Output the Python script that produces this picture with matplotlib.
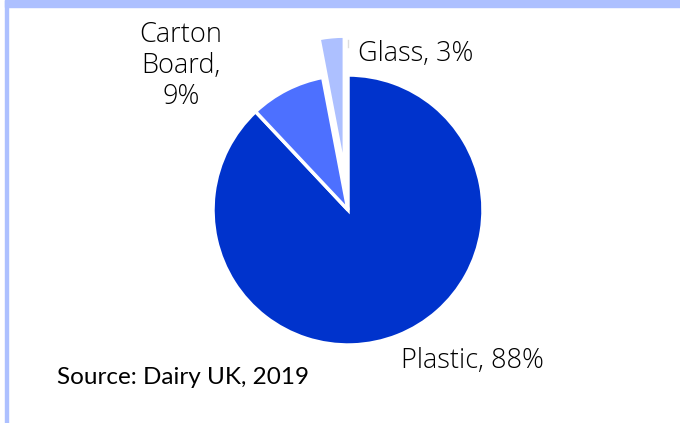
import matplotlib
matplotlib.use("Agg")
import matplotlib.pyplot as plt
from matplotlib.patches import Rectangle

categories = ["Plastic", "Carton Board", "Glass"]
shares = [88, 9, 3]
labels = ["Plastic, 88%", "Carton\nBoard,\n9%", "Glass, 3%"]
colors = ["#0033cc", "#4d70ff", "#adc0ff"]
source = "Source: Dairy UK, 2019"

W, H = 680, 423
fig = plt.figure(figsize=(W / 100, H / 100), dpi=100)
ax = fig.add_axes([0, 0, 1, 1])

cx, cy, r = 348, H - 210, 135
wedges, _ = ax.pie(shares, colors=colors, startangle=90, counterclock=False,
                   center=(cx, cy), radius=r, explode=[0, 0, 39],
                   wedgeprops=dict(edgecolor="white", linewidth=2.5), frame=True)
ax.set_xlim(0, W)
ax.set_ylim(0, H)
ax.set_aspect("equal")
ax.axis("off")

font = "Open Sans"
fs = 19.5
ax.text(472, H - 361, labels[0], ha="center", va="center", fontsize=fs, family=font,
        weight="light")
ax.text(181, H - 66, labels[1], ha="center", va="center", fontsize=fs, family=font,
        weight="light", linespacing=1.12)
ax.text(416, H - 54, labels[2], ha="center", va="center", fontsize=fs, family=font,
        weight="light")
ax.plot([348, 348], [H - 40, H - 47], color="#dddddd", lw=1)
ax.text(57, H - 378, source, ha="left", va="center", fontsize=17.5, family="Lato")

border = "#adc0ff"
fig.patches.append(Rectangle((5 / W, 1 - 7 / H), 1, 7 / H, transform=fig.transFigure,
                             color=border, zorder=0))
fig.patches.append(Rectangle((5 / W, 0), 3 / W, 1, transform=fig.transFigure,
                             color=border, zorder=0))

fig.savefig("out.png", dpi=100)
